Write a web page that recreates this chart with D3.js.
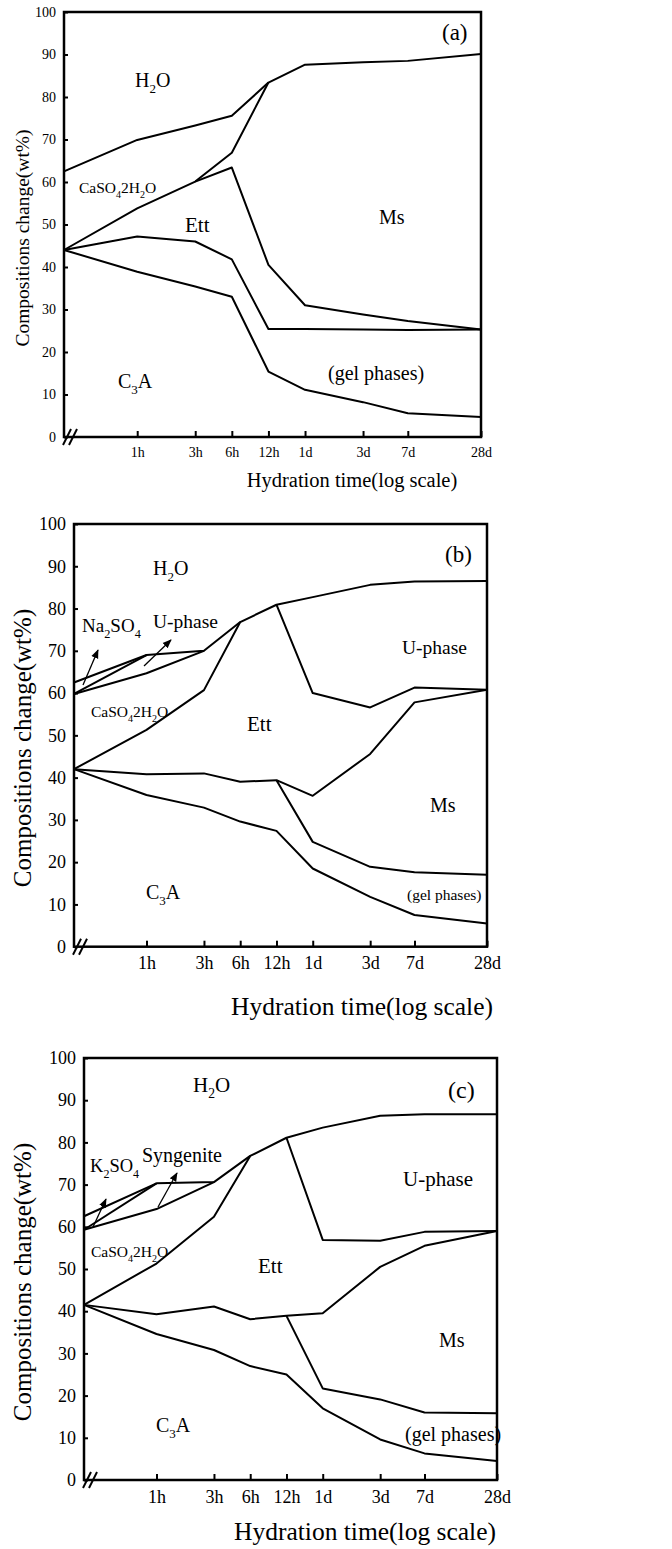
<!DOCTYPE html>
<html>
<head>
<meta charset="utf-8">
<script src="https://cdn.jsdelivr.net/npm/d3@7"></script>
<style>
  body { margin: 0; background: #fff; }
  svg { display: block; font-family: "Liberation Serif", "Times New Roman", "DejaVu Serif", serif; }
  text { font-family: "Liberation Serif", "Times New Roman", "DejaVu Serif", serif; fill: #000; }
  .frame { fill: none; stroke: #000; stroke-width: 2.5; }
  .curve { fill: none; stroke: #000; stroke-width: 2; stroke-linejoin: round; }
  .tick line { stroke: #000; stroke-width: 2; }
</style>
</head>
<body>
<svg width="672" height="1549"></svg>
<script>
var WIDTH = 672
var HEIGHT = 1549
var SERIF = '"Liberation Serif", "Times New Roman", serif';

// hydration times in hours (first point = start of test, 15 min)
var times = [0.25, 1, 3, 6, 12, 24, 72, 168, 672];
var tickHours = [1, 3, 6, 12, 24, 72, 168, 672];
var tickLabels = ["1h", "3h", "6h", "12h", "1d", "3d", "7d", "28d"];
var yTicks = [0, 10, 20, 30, 40, 50, 60, 70, 80, 90, 100];

// panel (a) boundaries, wt%
var aWater = [62.5, 69.9, 73.3, 75.6, 83.4, 87.6, 88.2, 88.5, 90.1];
var aGypsum = [44, 53.8, 60.1, 66.9, 83.4, null, null, null, null];
var aEttTop = [null, null, 60.1, 63.4, 40.5, 31.0, 28.8, 27.3, 25.3];
var aEttBottom = [44, 47.2, 46.0, 41.8, 25.4, 25.4, 25.3, 25.2, 25.3];
var aC3A = [44, 38.9, 35.4, 33.0, 15.4, 11.1, 8.2, 5.6, 4.7];

// panel (b)
var bWater = [62.5, 69.0, 70.0, 76.8, 80.9, 82.7, 85.6, 86.4, 86.5];
var bNa2SO4 = [59.8, 69.0, null, null, null, null, null, null, null];
var bUphase = [59.8, 64.7, 70.0, null, null, null, null, null, null];
var bGypsum = [42, 51.3, 60.7, 76.8, null, null, null, null, null];
var bUphaseLow = [null, null, null, null, 80.9, 60.0, 56.6, 61.3, 60.8];
var bEtt = [42, 40.8, 41.0, 39.0, 39.4, 35.7, 45.6, 57.8, 60.8];
var bGel = [null, null, null, null, 39.4, 24.8, 18.9, 17.6, 17.0];
var bC3A = [42, 35.9, 32.9, 29.6, 27.4, 18.5, 11.8, 7.5, 5.5];

// panel (c)
var cWater = [62.5, 70.3, 70.6, 76.8, 81.1, 83.5, 86.3, 86.7, 86.7];
var cK2SO4 = [59.3, 70.3, null, null, null, null, null, null, null];
var cSyngenite = [59.3, 64.2, 70.6, null, null, null, null, null, null];
var cGypsum = [41.5, 51.3, 62.4, 76.8, null, null, null, null, null];
var cUphaseLow = [null, null, null, null, 81.1, 56.9, 56.7, 58.8, 59.0];
var cEtt = [41.5, 39.3, 41.1, 38.1, 38.9, 39.5, 50.5, 55.5, 59.0];
var cGel = [null, null, null, null, 38.9, 21.7, 19.1, 16.0, 15.8];
var cC3A = [41.5, 34.6, 30.8, 27.0, 25.0, 17.0, 9.6, 6.3, 4.5];

var svg = d3.select("svg");

svg.append("defs").append("marker")
    .attr("id", "head")
    .attr("viewBox", "0 0 10 10")
    .attr("refX", 9).attr("refY", 5)
    .attr("markerWidth", 7).attr("markerHeight", 7)
    .attr("orient", "auto")
    .append("path")
    .attr("d", "M0,1 L10,5 L0,9 Z")
    .style("fill", "#000");

var panels = [
    {
        x0: 64, x1: 481, yTop: 12, yBot: 437, tickFont: 14, titleFont: 20.5,
        yTitle: [22, 238, 19.5], xTitle: [352, 487],
        series: [aWater, aGypsum, aEttTop, aEttBottom, aC3A],
        labels: [
            [442, 40, "(a)", 23], [135, 87, "H{2}O", 20], [79, 193, "CaSO{4}2H{2}O", 15.5],
            [185, 232, "Ett", 21], [379, 224, "Ms", 20], [118, 388, "C{3}A", 20],
            [328, 380, "(gel phases)", 20]
        ],
        arrows: []
    },
    {
        x0: 74, x1: 487, yTop: 524, yBot: 946.7, tickFont: 18, titleFont: 25.5,
        yTitle: [22, 748, 25], xTitle: [362, 1015],
        series: [bWater, bNa2SO4, bUphase, bGypsum, bUphaseLow, bEtt, bGel, bC3A],
        labels: [
            [445, 562, "(b)", 23], [153, 575, "H{2}O", 20], [82, 632, "Na{2}SO{4}", 19],
            [153, 628, "U-phase", 19.5], [402, 654, "U-phase", 19.5], [91, 717, "CaSO{4}2H{2}O", 15.5],
            [247, 731, "Ett", 21], [430, 812, "Ms", 20], [146, 899, "C{3}A", 20],
            [407, 900, "(gel phases)", 15.5]
        ],
        arrows: [[83, 685, 98, 650], [144, 666, 171, 640]]
    },
    {
        x0: 84, x1: 497, yTop: 1058, yBot: 1480, tickFont: 18, titleFont: 25.5,
        yTitle: [22, 1282, 25], xTitle: [365, 1540],
        series: [cWater, cK2SO4, cSyngenite, cGypsum, cUphaseLow, cEtt, cGel, cC3A],
        labels: [
            [448, 1098, "(c)", 24], [193, 1092, "H{2}O", 21], [90, 1172, "K{2}SO{4}", 18.5],
            [142, 1162, "Syngenite", 20], [403, 1186, "U-phase", 21], [91, 1257, "CaSO{4}2H{2}O", 15.5],
            [258, 1273, "Ett", 21], [439, 1347, "Ms", 20], [156, 1432, "C{3}A", 20],
            [405, 1441, "(gel phases)", 20]
        ],
        arrows: [[93, 1227, 106, 1199], [158, 1207, 177, 1173]]
    }
];

panels.forEach(drawPanel);

function drawPanel(p) {
    var x = d3.scaleLog().domain([times[0], times[times.length - 1]]).range([p.x0, p.x1]);
    var y = d3.scaleLinear().domain([0, 100]).range([p.yBot, p.yTop]);
    var g = svg.append("g");

    // y axis with inward ticks
    var yAxis = g.append("g")
        .attr("transform", "translate(" + p.x0 + ",0)")
        .call(d3.axisLeft(y).tickValues(yTicks).tickSizeInner(-4).tickSizeOuter(0).tickPadding(8));
    yAxis.attr("font-family", null);
    yAxis.select(".domain").remove();
    yAxis.selectAll("text").style("font-size", p.tickFont + "px").style("font-family", SERIF);

    var xAxis = g.append("g")
        .attr("transform", "translate(0," + p.yBot + ")")
        .call(d3.axisBottom(x).tickValues(tickHours)
            .tickFormat(function (d, i) { return tickLabels[i]; })
            .tickSizeInner(-6).tickSizeOuter(0).tickPadding(10));
    xAxis.attr("font-family", null);
    xAxis.select(".domain").remove();
    xAxis.selectAll("text").style("font-size", p.tickFont + "px").style("font-family", SERIF);

    g.append("rect").attr("class", "frame")
        .attr("x", p.x0).attr("y", p.yTop)
        .attr("width", p.x1 - p.x0).attr("height", p.yBot - p.yTop);

    // axis break mark
    [3, 9].forEach(function (dx) {
        g.append("line")
            .attr("x1", p.x0 + dx - 4).attr("y1", p.yBot + 8)
            .attr("x2", p.x0 + dx + 4).attr("y2", p.yBot - 8)
            .style("stroke", "#000").style("stroke-width", 2);
    });

    var line = d3.line()
        .defined(function (d) { return d[1] != null; })
        .x(function (d) { return x(d[0]); })
        .y(function (d) { return y(d[1]); });

    p.series.forEach(function (s) {
        var pts = times.map(function (t, i) { return [t, s[i]]; });
        g.append("path").attr("class", "curve").attr("d", line(pts));
    });

    p.labels.forEach(function (l) { addLabel(g, l[0], l[1], l[2], l[3]); });

    p.arrows.forEach(function (a) {
        g.append("line")
            .attr("x1", a[0]).attr("y1", a[1]).attr("x2", a[2]).attr("y2", a[3])
            .style("stroke", "#000").style("stroke-width", 1.3)
            .attr("marker-end", "url(#head)");
    });

    g.append("text")
        .attr("transform", "translate(" + p.yTitle[0] + "," + p.yTitle[1] + ") rotate(-90)")
        .attr("text-anchor", "middle")
        .attr("dominant-baseline", "central")
        .style("font-size", p.yTitle[2] + "px")
        .text("Compositions change(wt%)");

    g.append("text")
        .attr("x", p.xTitle[0]).attr("y", p.xTitle[1])
        .attr("text-anchor", "middle")
        .style("font-size", p.titleFont + "px")
        .text("Hydration time(log scale)");
}

// text with {..} parts set as subscripts
function addLabel(g, x, y, txt, size) {
    var t = g.append("text").attr("x", x).attr("y", y).style("font-size", size + "px");
    var sub = false;
    txt.split(/(\{[^}]*\})/).forEach(function (part) {
        if (!part) return;
        if (part[0] == "{") {
            t.append("tspan").attr("dy", size * 0.3).style("font-size", (size * 0.65) + "px")
                .text(part.slice(1, -1));
            sub = true;
        } else {
            t.append("tspan").attr("dy", sub ? -size * 0.3 : 0).text(part);
            sub = false;
        }
    });
}
</script>
</body>
</html>
